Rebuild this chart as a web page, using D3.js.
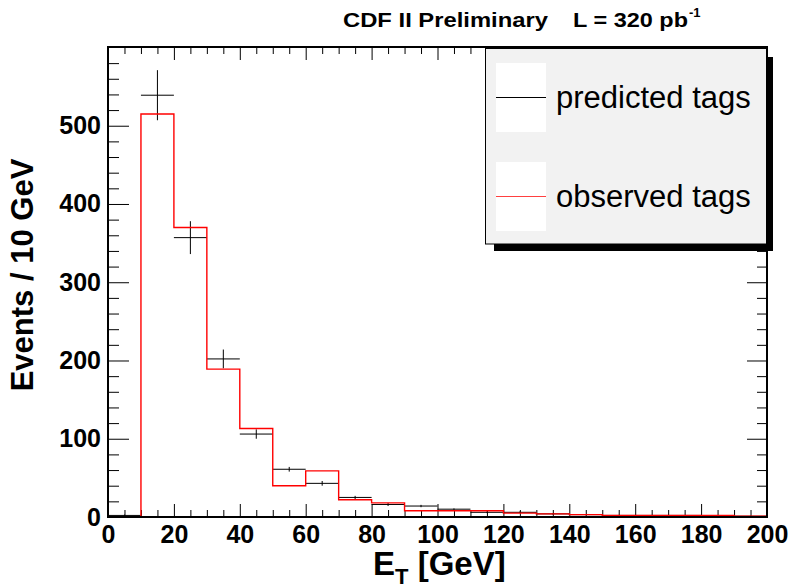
<!DOCTYPE html>
<html>
<head>
<meta charset="utf-8">
<script src="https://cdn.jsdelivr.net/npm/d3@7"></script>
<style>
  body { margin: 0; background: #fff; }
  svg { display: block; font-family: "Liberation Sans", Arial, Helvetica, sans-serif; }
</style>
</head>
<body>
<script>
// bin lower edges (10 GeV bins)
const binEdges = [0, 10, 20, 30, 40, 50, 60, 70, 80, 90, 100, 110, 120, 130, 140, 150, 160, 170, 180, 190];
const observed = [0, 515, 370, 189, 113, 40, 59, 22, 18, 8, 8, 8, 5, 4, 3, 2, 2, 2, 2, 1];
const predicted = [2, 539, 357, 202, 106, 61, 43, 25, 16, 14, 10, 6, 6, 4, 3, 2, 2, 2, 1, 1];
const predErr = [1, 32, 21, 12, 6, 3, 3, 2, 2, 1.5, 1, 1, 1, 0.8, 0.7, 0.6, 0.6, 0.5, 0.5, 0.5];
const xMajor = [0, 20, 40, 60, 80, 100, 120, 140, 160, 180, 200];
const yMajor = [0, 100, 200, 300, 400, 500];
const binWidth = 10;

const [w, h] = [793, 588];
const [pLeft, pRight, pTop, pBottom] = [108, 767, 47, 517];

const svg = d3.select('body').append('svg')
  .attr('width', w)
  .attr('height', h);

const x = d3.scaleLinear().domain([0, 200]).range([pLeft, pRight]);
const y = d3.scaleLinear().domain([0, 600.6]).range([pBottom, pTop]);

const xMinor = d3.range(0, 201, 5).filter(v => v % 20 != 0);
const yMinor = d3.range(0, 601, 20).filter(v => v % 100 != 0);

//axes: ticks point inward, ROOT style
function styleAxis(g) {
  g.select('.domain').remove();
  g.selectAll('line').attr('stroke', '#000').attr('stroke-width', 1);
  g.selectAll('text')
    .attr('fill', '#000')
    .attr('font-size', '25px')
    .attr('font-weight', 'bold')
    .attr('font-family', '"Liberation Sans", Arial, Helvetica, sans-serif');
}

svg.append('g').attr('transform', `translate(0, ${pBottom})`)
  .call(d3.axisBottom(x).tickValues(xMajor).tickSize(-13).tickPadding(8).tickFormat(d3.format('d')))
  .call(styleAxis);
svg.append('g').attr('transform', `translate(0, ${pBottom})`)
  .call(d3.axisBottom(x).tickValues(xMinor).tickSize(-7).tickFormat(''))
  .call(styleAxis);
svg.append('g').attr('transform', `translate(0, ${pTop})`)
  .call(d3.axisTop(x).tickValues(xMajor).tickSize(-13).tickFormat(''))
  .call(styleAxis);
svg.append('g').attr('transform', `translate(0, ${pTop})`)
  .call(d3.axisTop(x).tickValues(xMinor).tickSize(-7).tickFormat(''))
  .call(styleAxis);

svg.append('g').attr('transform', `translate(${pLeft}, 0)`)
  .call(d3.axisLeft(y).tickValues(yMajor).tickSize(-21).tickPadding(7).tickFormat(d3.format('d')))
  .call(styleAxis);
svg.append('g').attr('transform', `translate(${pLeft}, 0)`)
  .call(d3.axisLeft(y).tickValues(yMinor).tickSize(-11).tickFormat(''))
  .call(styleAxis);
svg.append('g').attr('transform', `translate(${pRight}, 0)`)
  .call(d3.axisRight(y).tickValues(yMajor).tickSize(-20).tickFormat(''))
  .call(styleAxis);
svg.append('g').attr('transform', `translate(${pRight}, 0)`)
  .call(d3.axisRight(y).tickValues(yMinor).tickSize(-10).tickFormat(''))
  .call(styleAxis);

// predicted: horizontal bar over the bin + vertical error
const pred = svg.append('g').attr('stroke', '#000').attr('stroke-width', 1);
binEdges.forEach((b, i) => {
  pred.append('line')
    .attr('x1', x(b)).attr('x2', x(b + binWidth))
    .attr('y1', y(predicted[i])).attr('y2', y(predicted[i]));
  pred.append('line')
    .attr('x1', x(b + binWidth / 2)).attr('x2', x(b + binWidth / 2))
    .attr('y1', y(predicted[i] - predErr[i])).attr('y2', y(predicted[i] + predErr[i]));
});

// observed: step histogram
let pts = [[0, 0]];
binEdges.forEach((b, i) => {
  pts.push([b, observed[i]]);
  pts.push([b + binWidth, observed[i]]);
});
pts.push([200, 0]);
svg.append('path')
  .attr('d', d3.line().x(d => x(d[0])).y(d => y(d[1]))(pts))
  .attr('fill', 'none')
  .attr('stroke', '#ff0000')
  .attr('stroke-width', 1.4);

//frame
svg.append('rect')
  .attr('x', pLeft).attr('y', pTop)
  .attr('width', pRight - pLeft).attr('height', pBottom - pTop)
  .attr('fill', 'none')
  .attr('stroke', '#000')
  .attr('stroke-width', 2);

//legend
const lg = svg.append('g');
lg.append('rect').attr('x', 494).attr('y', 57).attr('width', 279).attr('height', 194).attr('fill', '#000');
lg.append('rect').attr('x', 485.5).attr('y', 48.5).attr('width', 281).attr('height', 195.5)
  .attr('fill', '#f2f2f2').attr('stroke', '#000').attr('stroke-width', 1);
const legendItems = [
  {label: 'predicted tags', color: '#000', y: 63},
  {label: 'observed tags', color: '#ff4040', y: 162}
];
legendItems.forEach(d => {
  lg.append('rect').attr('x', 496).attr('y', d.y).attr('width', 50).attr('height', 69).attr('fill', '#fff');
  lg.append('line').attr('x1', 496).attr('x2', 546).attr('y1', d.y + 34.5).attr('y2', d.y + 34.5)
    .attr('stroke', d.color).attr('stroke-width', 1);
  lg.append('text').attr('x', 556).attr('y', d.y + 45)
    .attr('font-size', '31px').attr('fill', '#000')
    .text(d.label);
});

//title
svg.append('text')
  .attr('x', 343).attr('y', 27)
  .attr('font-size', '20px').attr('font-weight', 'bold')
  .attr('textLength', 205).attr('lengthAdjust', 'spacingAndGlyphs')
  .text('CDF II Preliminary');
svg.append('text')
  .attr('x', 573).attr('y', 27)
  .attr('font-size', '20px').attr('font-weight', 'bold')
  .attr('textLength', 115).attr('lengthAdjust', 'spacingAndGlyphs')
  .text('L = 320 pb');
svg.append('text')
  .attr('x', 689).attr('y', 17)
  .attr('font-size', '13px').attr('font-weight', 'bold')
  .text('-1');

//axis titles
const xt = svg.append('text')
  .attr('x', 373).attr('y', 575)
  .attr('font-size', '33px').attr('font-weight', 'bold');
xt.append('tspan').text('E');
xt.append('tspan').attr('font-size', '22px').attr('dy', 9).text('T');
xt.append('tspan').attr('dy', -9).text(' [GeV]');

svg.append('text')
  .attr('transform', 'translate(33, 275) rotate(-90)')
  .attr('text-anchor', 'middle')
  .attr('font-size', '31px').attr('font-weight', 'bold')
  .text('Events / 10 GeV');
</script>
</body>
</html>
